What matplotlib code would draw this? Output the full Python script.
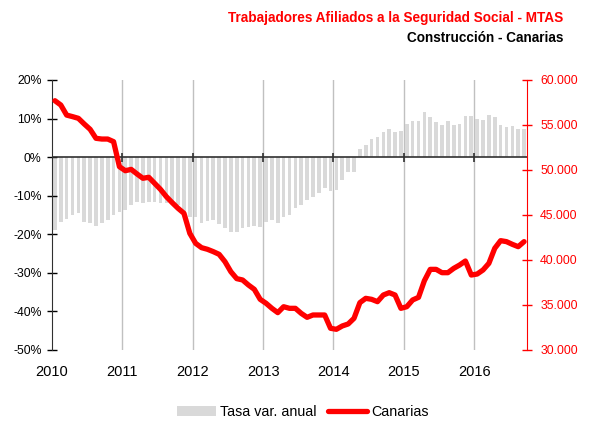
import matplotlib.pyplot as plt
import numpy as np

# monthly data, Jan 2010 - Sep 2016
years = ["2010", "2011", "2012", "2013", "2014", "2015", "2016"]

tasa = [
    -18.9, -16.8, -16.1, -15.0, -14.6, -16.8, -17.1, -17.9, -17.2, -16.3, -15.0, -14.2,   # 2010
    -13.6, -12.4, -11.6, -12.0, -11.6, -11.6, -11.8, -12.0, -12.0, -12.4, -14.6, -15.4,   # 2011
    -15.5, -17.0, -16.5, -16.3, -17.4, -18.5, -19.3, -19.5, -18.5, -18.0, -17.9, -18.2,   # 2012
    -16.7, -16.3, -17.0, -15.5, -15.0, -13.3, -12.4, -11.2, -10.3, -9.4, -8.1, -8.8,      # 2013
    -8.5, -6.0, -3.8, -3.8, 2.2, 3.1, 4.7, 5.3, 6.6, 7.4, 6.6, 6.8,                       # 2014
    8.7, 9.4, 9.3, 11.7, 10.4, 9.0, 8.3, 9.3, 8.3, 8.5, 10.6, 10.6,                      # 2015
    10.0, 9.6, 10.9, 10.4, 8.3, 7.8, 8.0, 7.2, 7.4,                                       # 2016
]

canarias = [
    57700, 57220, 56100, 55930, 55740, 55110, 54520, 53520, 53440, 53440, 53150, 50370,
    49920, 50070, 49560, 49080, 49190, 48520, 47850, 47040, 46370, 45740, 45190, 42960,
    41850, 41370, 41190, 40930, 40630, 39810, 38700, 37930, 37780, 37220, 36740, 35630,
    35190, 34630, 34150, 34810, 34630, 34630, 34070, 33630, 33890, 33890, 33890, 32410,
    32300, 32670, 32890, 33520, 35260, 35740, 35630, 35370, 36110, 36370, 36110, 34630,
    34810, 35560, 35850, 37700, 38960, 38960, 38590, 38590, 39070, 39440, 39890, 38330,
    38440, 38890, 39630, 41300, 42150, 42040, 41740, 41480, 42040,
]

plt.rcParams['font.family'] = ['Liberation Sans', 'DejaVu Sans']

n = len(tasa)
x = np.arange(n) + 0.5

fig = plt.figure(figsize=(5.99, 4.25), dpi=100)
ax = fig.add_axes([52 / 599, 1 - 350 / 425, 475 / 599, 270 / 425])
ax2 = ax.twinx()

# year grid lines
for k in range(1, len(years)):
    ax.axvline(12 * k, color='#c0c0c0', lw=1, zorder=0)

bars = ax.bar(x, tasa, width=0.62, color='#d9d9d9', zorder=1, label='Tasa var. anual')
ax.axhline(0, color='#303030', lw=1.2, zorder=2)
# tick marks on the zero line
ax.vlines(np.arange(0, n, 12), -1.2, 1.2, color='#303030', lw=1.2, zorder=2)

ax.set_xlim(0, n)
ax.set_ylim(-50, 20)
ax.set_yticks(np.arange(-50, 21, 10))
ax.set_yticklabels([f"{v}%" for v in range(-50, 21, 10)], fontsize=8.8)
ax.set_xticks(np.arange(0, n, 12))
ax.set_xticklabels(years, fontsize=10.5)
ax.tick_params(axis='x', length=0, pad=11)
ax.tick_params(axis='y', direction='inout', length=7, width=1, pad=4)
for s in ['top', 'bottom', 'right']:
    ax.spines[s].set_visible(False)
ax.spines['left'].set_color('#303030')

line, = ax2.plot(x, canarias, color='#ff0000', lw=3.8, solid_capstyle='round',
                 solid_joinstyle='round', zorder=3, label='Canarias')
ax2.set_ylim(30000, 60000)
ax2.set_yticks(np.arange(30000, 60001, 5000))
ax2.set_yticklabels([f"{v // 1000}.000" for v in range(30000, 60001, 5000)],
                    fontsize=8.8, color='#ff0000')
ax2.tick_params(axis='y', direction='inout', length=7, width=1, color='#ff0000', pad=6)
for s in ['top', 'bottom', 'left']:
    ax2.spines[s].set_visible(False)
ax2.spines['right'].set_color('#ff0000')

fig.text(563 / 599, 1 - 18 / 425, "Trabajadores Afiliados a la Seguridad Social - MTAS",
         ha='right', va='center', fontsize=9.8, fontweight='bold', color='#ff0000')
fig.text(563 / 599, 1 - 38 / 425, "Construcción - Canarias",
         ha='right', va='center', fontsize=9.8, fontweight='bold', color='black')

fig.legend([bars, line], ['Tasa var. anual', 'Canarias'], loc='center',
           bbox_to_anchor=(303 / 599, 1 - 412 / 425), ncol=2, frameon=False,
           fontsize=10.3, handlelength=2.7, columnspacing=0.8, handletextpad=0.3)

fig.savefig('out.png', dpi=100)
